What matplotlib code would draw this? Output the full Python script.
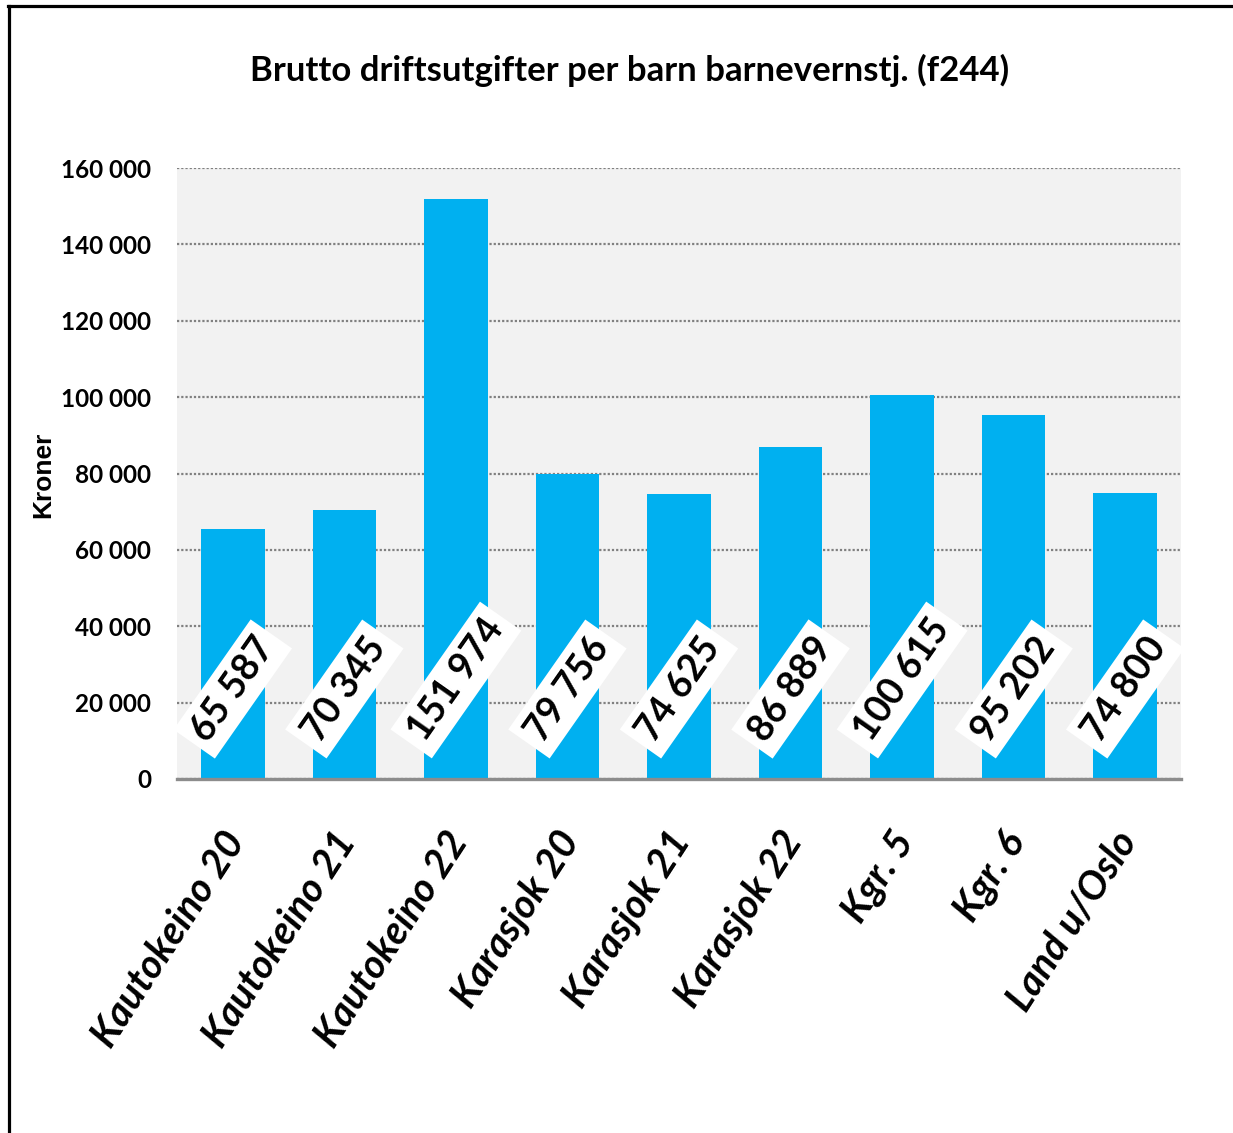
import matplotlib
matplotlib.use("Agg")
import matplotlib.pyplot as plt
from matplotlib.transforms import blended_transform_factory, ScaledTranslation
from matplotlib.lines import Line2D

categories = ["Kautokeino 20", "Kautokeino 21", "Kautokeino 22", "Karasjok 20",
              "Karasjok 21", "Karasjok 22", "Kgr. 5", "Kgr. 6", "Land u/Oslo"]
values = [65587, 70345, 151974, 79756, 74625, 86889, 100615, 95202, 74800]
yticks = [0, 20000, 40000, 60000, 80000, 100000, 120000, 140000, 160000]
title = "Brutto driftsutgifter per barn barnevernstj. (f244)"
ylabel = "Kroner"

HUMAN = ["Lato", "Open Sans", "DejaVu Sans"]

def fmt(v):
    return f"{v:,}".replace(",", " ")

W, H = 1233, 1133
fig = plt.figure(figsize=(W / 100, H / 100), dpi=100)
fig.patch.set_facecolor("white")

ax = fig.add_axes([177 / W, 1 - 779 / H, (1181 - 177) / W, (779 - 168) / H])
ax.set_facecolor("#f2f2f2")

x = list(range(len(categories)))
ax.bar(x, values, width=0.57, color="#00b0f0", zorder=2)
ax.set_xlim(-0.5, len(categories) - 0.5)
ax.set_ylim(yticks[0], yticks[-1])

ax.set_yticks(yticks)
ax.set_yticklabels([fmt(v) for v in yticks], fontsize=17.5, fontweight="bold",
                   family=HUMAN)
ax.tick_params(axis="y", length=0, pad=18.7)
ax.set_xticks(x)
ax.set_xticklabels([])
ax.tick_params(axis="x", length=0)

ax.yaxis.grid(True, linestyle=(0, (1, 0.9)), color="#808080", linewidth=1.6)
ax.set_axisbelow(True)
for s in ["top", "right", "left"]:
    ax.spines[s].set_visible(False)
ax.spines["bottom"].set_color("#8c8c8c")
ax.spines["bottom"].set_linewidth(2.4)
ax.spines["bottom"].set_zorder(3)

# value labels
for i, v in enumerate(values):
    lab = fmt(v)
    off_px = 36 + 9 * len(lab)
    ax.annotate(lab, xy=(i, 0), xytext=(0, off_px * 0.72), textcoords="offset points",
                ha="center", va="center", rotation=55, fontsize=27,
                fontweight="bold", family=HUMAN, color="black", zorder=5,
                bbox=dict(boxstyle="square,pad=0.22", fc="white", ec="none"))

# category labels
trans = blended_transform_factory(ax.transData, ax.transAxes) + \
    ScaledTranslation(-12 / 100, -46 / 100, fig.dpi_scale_trans)
for i, c in enumerate(categories):
    ax.text(i, 0, c, transform=trans, rotation=57, rotation_mode="anchor",
            ha="right", va="top", fontsize=28.5, fontweight="bold",
            fontstyle="italic", family=HUMAN, color="black")

fig.text(630 / W, 1 - 70 / H, title, ha="center", va="center", fontsize=25,
         fontweight="bold", family=HUMAN)
fig.text(43 / W, 1 - 475 / H, ylabel, ha="center", va="center", rotation=90,
         fontsize=19, fontweight="bold", family=["Liberation Sans", "DejaVu Sans"])

# frame lines (left and top)
fig.add_artist(Line2D([9 / W, 9 / W], [0, 1 - 5.5 / H], transform=fig.transFigure,
                      color="black", linewidth=2.3))
fig.add_artist(Line2D([8 / W, 1], [1 - 5.5 / H, 1 - 5.5 / H], transform=fig.transFigure,
                      color="black", linewidth=2.3))

fig.savefig("out.png", dpi=100)
